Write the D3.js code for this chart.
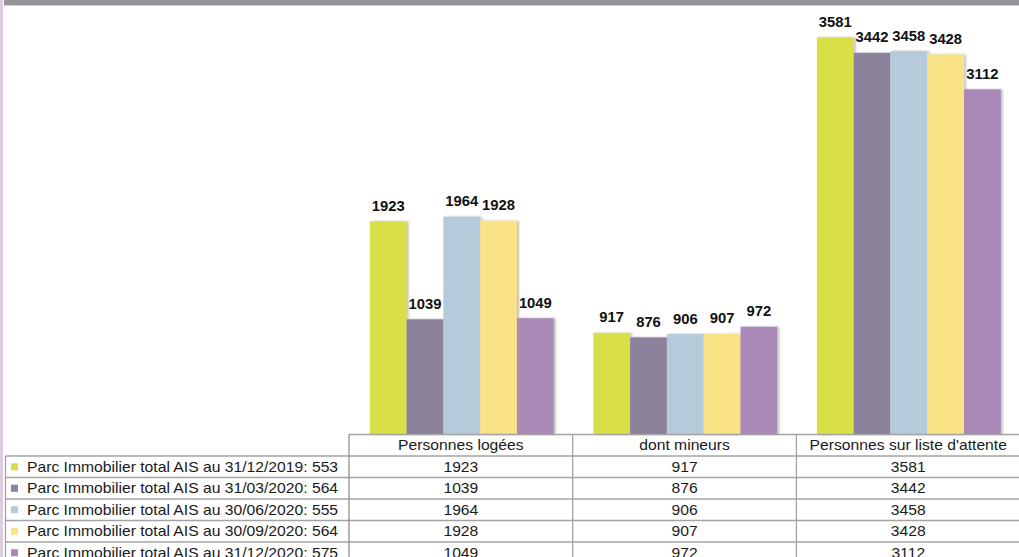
<!DOCTYPE html>
<html>
<head>
<meta charset="utf-8">
<script src="https://cdn.jsdelivr.net/npm/d3@7"></script>
<style>
  html, body { margin: 0; padding: 0; background: #ffffff; }
  svg { display: block; }
</style>
</head>
<body>
<svg id="chart" width="1019" height="557"></svg>
<script>
// ---------- data ----------
const categories = ["Personnes logées", "dont mineurs", "Personnes sur liste d'attente"];
const seriesNames = [
  "Parc Immobilier total AIS au 31/12/2019: 553",
  "Parc Immobilier total AIS au 31/03/2020: 564",
  "Parc Immobilier total AIS au 30/06/2020: 555",
  "Parc Immobilier total AIS au 30/09/2020: 564",
  "Parc Immobilier total AIS au 31/12/2020: 575"
];
const values2019Dec = [1923, 917, 3581];
const values2020Mar = [1039, 876, 3442];
const values2020Jun = [1964, 906, 3458];
const values2020Sep = [1928, 907, 3428];
const values2020Dec = [1049, 972, 3112];
const seriesColors = ["#d9e046", "#8c829b", "#b5cbdb", "#fae387", "#a889b7"];

const seriesValues = [values2019Dec, values2020Mar, values2020Jun, values2020Sep, values2020Dec];

// ---------- layout ----------
const W = 1019, H = 557;
const baseY = 434.5;
const rowH = 21.5;
const tableLeft = 5.5;
const svg = d3.select("#chart");

// frame decorations
svg.append("rect").attr("x", 0).attr("y", 0).attr("width", 3).attr("height", H).attr("fill", "#ddcde3");
svg.append("rect").attr("x", 4).attr("y", 0).attr("width", W - 4).attr("height", 5).attr("fill", "#949498");
svg.append("rect").attr("x", 4).attr("y", 5).attr("width", W - 4).attr("height", 1).attr("fill", "#cfcfd3");

// scales
const x0 = d3.scaleBand().domain(categories).range([349, 1021.6]).paddingInner(0.177).paddingOuter(0.093);
const x1 = d3.scaleBand().domain(d3.range(seriesNames.length)).range([0, x0.bandwidth()]);
const y = d3.scaleLinear().domain([0, 4000]).range([baseY, baseY - 4000 * 0.1109]);

// shadow filter
const defs = svg.append("defs");
const f = defs.append("filter").attr("id", "shadow").attr("x", "-20%").attr("y", "-5%").attr("width", "150%").attr("height", "110%");
f.append("feDropShadow").attr("dx", 2).attr("dy", 0).attr("stdDeviation", 1.2)
  .attr("flood-color", "#000").attr("flood-opacity", 0.25);

// bars
const groups = svg.append("g").selectAll("g").data(categories).join("g")
  .attr("transform", d => `translate(${x0(d)},0)`);

groups.each(function(cat, ci) {
  const g = d3.select(this);
  const items = seriesValues.map((vals, si) => ({ si, v: vals[ci] }));
  g.append("g").attr("filter", "url(#shadow)")
    .selectAll("rect").data(items).join("rect")
    .attr("x", d => x1(d.si))
    .attr("y", d => y(d.v))
    .attr("width", x1.bandwidth())
    .attr("height", d => baseY - y(d.v))
    .attr("fill", d => seriesColors[d.si]);
  g.selectAll("text.lbl").data(items).join("text")
    .attr("class", "lbl")
    .attr("x", d => x1(d.si) + x1.bandwidth() / 2)
    .attr("y", d => y(d.v) - 10.5)
    .attr("text-anchor", "middle")
    .attr("font-family", "'Liberation Sans', Arial, sans-serif")
    .attr("font-weight", "bold")
    .attr("font-size", "14.8px")
    .attr("fill", "#111")
    .text(d => d.v);
});

// ---------- data table ----------
const lineColor = "#a3a3a3";
const colStep = 223.7;
const colStart = i => 349 + i * colStep;
const nRows = seriesNames.length;
const tbl = svg.append("g");

// horizontal lines
tbl.append("line").attr("x1", 349).attr("x2", W).attr("y1", baseY).attr("y2", baseY)
  .attr("stroke", lineColor).attr("stroke-width", 1.3);
for (let r = 0; r <= nRows; r++) {
  const yy = baseY + rowH * (r + 1);
  tbl.append("line").attr("x1", tableLeft).attr("x2", W).attr("y1", yy).attr("y2", yy)
    .attr("stroke", lineColor).attr("stroke-width", 1.3);
}
// vertical lines
tbl.append("line").attr("x1", tableLeft).attr("x2", tableLeft).attr("y1", baseY + rowH).attr("y2", H)
  .attr("stroke", lineColor).attr("stroke-width", 1.3);
for (let i = 0; i < categories.length; i++) {
  const xx = colStart(i);
  tbl.append("line").attr("x1", xx).attr("x2", xx).attr("y1", baseY).attr("y2", H)
    .attr("stroke", i === 0 ? "#8f8f8f" : lineColor).attr("stroke-width", 1.3);
}

const stretch = 1.12;
function tableText(xc, yb, txt, anchor) {
  tbl.append("text")
    .attr("transform", `translate(${xc},${yb}) scale(${stretch},1)`)
    .attr("text-anchor", anchor)
    .attr("font-family", "'Liberation Sans', Arial, sans-serif")
    .attr("font-size", "14px")
    .attr("fill", "#1a1a1a")
    .text(txt);
}

// header
categories.forEach((c, i) => {
  tableText(colStart(i) + colStep / 2, baseY + rowH / 2 + 5, c, "middle");
});
// rows
seriesNames.forEach((name, r) => {
  const cy = baseY + rowH * (r + 1) + rowH / 2;
  tbl.append("rect").attr("x", 11).attr("y", cy - 3.5).attr("width", 7).attr("height", 7)
    .attr("fill", seriesColors[r]);
  tableText(27, cy + 5, name, "start");
  categories.forEach((c, i) => {
    tableText(colStart(i) + colStep / 2, cy + 5, seriesValues[r][i], "middle");
  });
});
</script>
</body>
</html>
